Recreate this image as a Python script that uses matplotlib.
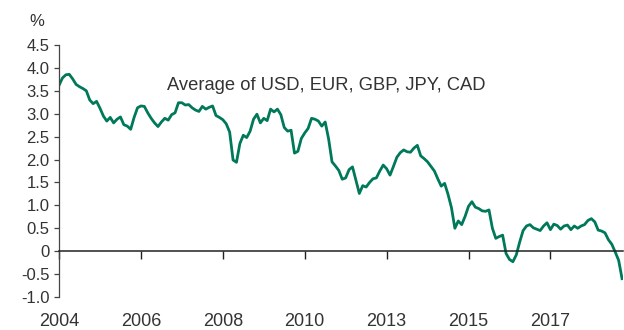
import matplotlib.pyplot as plt

# monthly average short rate, %
rate = [
    3.62, 3.78, 3.85, 3.86, 3.76, 3.64, 3.59, 3.55, 3.50, 3.30,
    3.22, 3.27, 3.12, 2.95, 2.84, 2.92, 2.80, 2.88, 2.93, 2.76,
    2.73, 2.66, 2.92, 3.13, 3.17, 3.16, 3.02, 2.90, 2.80, 2.72,
    2.82, 2.90, 2.86, 2.98, 3.02, 3.24, 3.24, 3.19, 3.20, 3.13,
    3.08, 3.05, 3.16, 3.10, 3.14, 3.17, 2.96, 2.92, 2.87, 2.78,
    2.60, 1.99, 1.94, 2.35, 2.53, 2.48, 2.62, 2.88, 2.99, 2.80,
    2.90, 2.85, 3.10, 3.04, 3.10, 2.98, 2.70, 2.62, 2.64, 2.14,
    2.18, 2.46, 2.58, 2.68, 2.90, 2.88, 2.84, 2.73, 2.82, 2.45,
    1.95, 1.86, 1.76, 1.57, 1.60, 1.78, 1.84, 1.55, 1.26, 1.43,
    1.40, 1.50, 1.58, 1.60, 1.75, 1.88, 1.80, 1.66, 1.85, 2.05,
    2.15, 2.21, 2.17, 2.16, 2.25, 2.31, 2.08, 2.02, 1.95, 1.85,
    1.75, 1.58, 1.42, 1.48, 1.24, 0.95, 0.50, 0.66, 0.58, 0.76,
    0.98, 1.08, 0.96, 0.93, 0.88, 0.87, 0.90, 0.50, 0.28, 0.32,
    0.35, -0.05, -0.18, -0.23, -0.08, 0.20, 0.45, 0.55, 0.58, 0.51,
    0.48, 0.45, 0.55, 0.62, 0.47, 0.59, 0.56, 0.48, 0.55, 0.57,
    0.47, 0.55, 0.50, 0.55, 0.58, 0.67, 0.71, 0.64, 0.46, 0.44,
    0.40, 0.25, 0.15, -0.02, -0.20, -0.60,
]
months = list(range(len(rate)))

year_ticks = [0, 24, 48, 72, 96, 120, 144]
year_labels = ['2004', '2006', '2008', '2010', '2013', '2015', '2017']
y_ticks = [4.5, 4.0, 3.5, 3.0, 2.5, 2.0, 1.5, 1.0, 0.5, 0, -0.5, -1.0]
y_labels = ['4.5', '4.0', '3.5', '3.0', '2.5', '2.0', '1.5', '1.0', '0.5', '0', '-0.5', '-1.0']

text_color = '#333333'
plt.rcParams['font.family'] = ['Liberation Sans', 'DejaVu Sans']

fig = plt.figure(figsize=(6.24, 3.30), dpi=100)
ax = fig.add_axes([0.0946, 0.10, 0.9034, 0.7636])

ax.plot(months, rate, color='#00785a', linewidth=2.0, solid_joinstyle='round')

ax.set_xlim(0, 165.2)
ax.set_ylim(-1.0, 4.5)

for side in ('top', 'right'):
    ax.spines[side].set_visible(False)
ax.spines['left'].set_color('#444444')
ax.spines['left'].set_linewidth(0.9)
ax.spines['bottom'].set_position(('data', 0))
ax.spines['bottom'].set_color('#222222')
ax.spines['bottom'].set_linewidth(1.1)

ax.set_yticks(y_ticks)
ax.set_yticklabels(y_labels)
ax.tick_params(axis='y', direction='out', length=3.6, width=0.9, pad=3.2,
               labelsize=12, labelcolor=text_color, color='#444444')

ax.set_xticks(year_ticks)
ax.set_xticklabels(year_labels)
ax.tick_params(axis='x', direction='out', length=5.8, width=1.0, pad=39,
               labelsize=13, labelcolor=text_color, color='#222222')

fig.text(37 / 624, 1 - 21 / 330, '%', ha='center', va='center',
         fontsize=12, color=text_color)
fig.text(167 / 624, 1 - 86 / 330, 'Average of USD, EUR, GBP, JPY, CAD',
         ha='left', va='center', fontsize=13.2, color=text_color)

fig.savefig('out.png', dpi=100)
